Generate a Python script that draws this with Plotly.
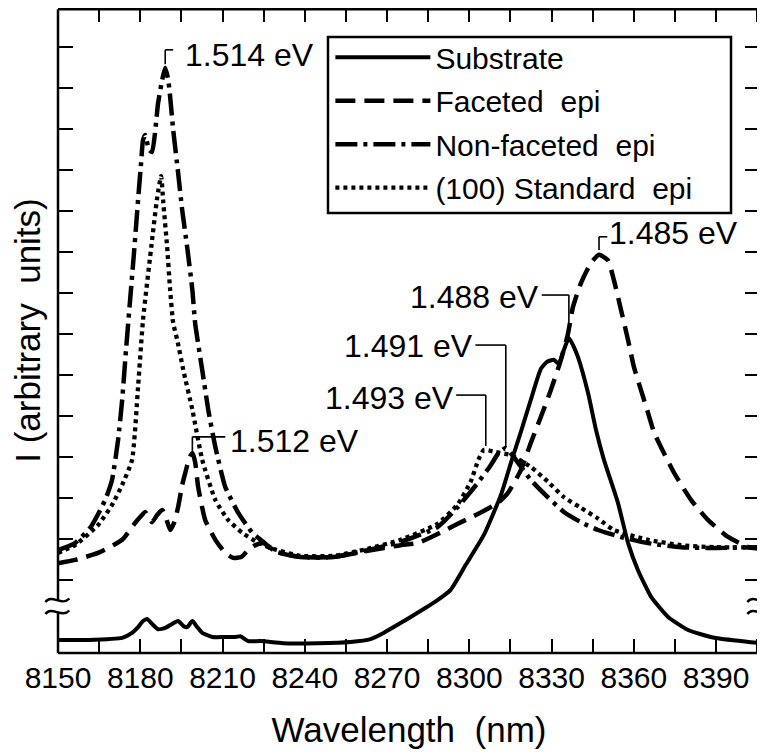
import plotly.graph_objects as go

# ---------------- data (wavelength as labelled, intensity in arbitrary units) ----------------
sub_x = [8150, 8161, 8173.4, 8177, 8179.2, 8181, 8182.5, 8184.3, 8186.5, 8189.1, 8191.6, 8193.8,
         8195.7, 8197.1, 8199, 8200.8, 8202.6, 8206.3, 8211, 8214.7, 8216.5, 8219.4, 8223.8, 8232.2,
         8244.6, 8256.7, 8264, 8268.7, 8274.9, 8281.1, 8288.4, 8293.2, 8298.7, 8305.3, 8311.5,
         8315.5, 8318.8, 8322.4, 8326.1, 8328.3, 8330.8, 8332.6, 8334.1, 8336.3, 8337.8, 8339.6,
         8343.3, 8346.2, 8349.1, 8354.2, 8357.9, 8361.5, 8366.3, 8372.5, 8379.8, 8389.3, 8401.7, 8406]
sub_y = [-1.46, -1.46, -1.41, -1.29, -1.15, -1.0, -0.95, -1.07, -1.2, -1.17, -1.07, -1.0,
         -1.12, -1.15, -1.0, -1.15, -1.29, -1.39, -1.39, -1.39, -1.37, -1.49, -1.49, -1.54,
         -1.54, -1.51, -1.44, -1.29, -1.05, -0.8, -0.49, -0.24, 0.37, 1.1, 2.07,
         2.93, 3.61, 4.39, 5.15, 5.32, 5.37, 5.27, 5.54, 5.9, 5.73, 5.44,
         4.56, 3.66, 2.93, 1.88, 0.9, 0.24, -0.41, -0.9, -1.22, -1.41, -1.51, -1.54]

fac_x = [8150, 8156.2, 8164.6, 8173.4, 8178.1, 8180.7, 8181.8, 8183.2, 8184.3, 8186.2, 8188, 8189.4,
         8190.9, 8192.4, 8193.8, 8195.3, 8196.4, 8197.9, 8199, 8200, 8201.1, 8203.7, 8207.4, 8211,
         8213.9, 8216.8, 8219.4, 8222, 8224.9, 8230, 8238.4, 8250.5, 8262.9, 8274.9, 8281.1, 8288.4,
         8295.8, 8303.1, 8310.4, 8314, 8318.8, 8322.4, 8326.1, 8329.7, 8333.4, 8335.9, 8337.8,
         8340.7, 8344.3, 8347.3, 8350.5, 8352.7, 8355.3, 8357.9, 8360, 8362.6, 8365.2, 8367.4,
         8369.9, 8374.7, 8380.9, 8387.1, 8394.4, 8401.7, 8406]
fac_y = [0.41, 0.49, 0.66, 0.98, 1.39, 1.59, 1.66, 1.51, 1.41, 1.59, 1.71, 1.51,
         1.22, 1.41, 1.78, 2.32, 2.61, 2.98, 3.1, 2.88, 2.27, 1.46, 0.98, 0.66,
         0.54, 0.56, 0.73, 0.85, 0.9, 0.68, 0.56, 0.56, 0.71, 0.85, 0.9, 1.12,
         1.37, 1.61, 1.88, 2.12, 2.68, 3.34, 3.98, 4.63, 5.37, 5.98, 6.66,
         7.24, 7.73, 7.93, 7.8, 7.32, 6.59, 5.85, 5.2, 4.63, 4.07, 3.59,
         3.24, 2.61, 1.95, 1.46, 1.05, 0.8, 0.76]

non_x = [8150, 8156.2, 8162.0, 8167.2, 8169.7, 8171.9, 8173.4, 8174.8, 8176.3, 8177.8, 8179.2, 8180.3,
         8181.0, 8181.8, 8183.2, 8184.3, 8186.5, 8188.0, 8189.1, 8190.2, 8190.9, 8192.0, 8193.8, 8195.3,
         8197.1, 8199.0, 8200.0, 8202.6, 8204.8, 8207.4, 8211.0, 8215.8, 8220.9, 8224.9, 8227.4, 8230.0,
         8238.4, 8250.5, 8262.9, 8274.9, 8288.4, 8295.8, 8303.1, 8307.8, 8310.7, 8313.3, 8316.2,
         8322.4, 8328.6, 8334.5, 8340.7, 8346.9, 8355.3, 8365.2, 8377.2, 8389.3, 8406]
non_y = [0.73, 0.9, 1.3, 1.95, 2.44, 3.41, 4.39, 5.61, 6.83, 8.05, 9.27, 10.17,
         10.73, 10.85, 10.49, 10.44, 11.63, 12.2, 12.49, 12.2, 11.78, 10.98, 9.93, 9.02,
         8.12, 7.07, 6.27, 5.12, 4.15, 3.24, 2.27, 1.63, 1.15, 0.93, 0.78, 0.68,
         0.56, 0.56, 0.73, 0.93, 1.29, 1.78, 2.37, 2.8, 3.1, 3.22, 3.0,
         2.44, 2.02, 1.66, 1.41, 1.22, 1.05, 0.9, 0.8, 0.78, 0.8]

std_x = [8150, 8156.2, 8164.6, 8169.7, 8173.4, 8177, 8179.2, 8181, 8184.3, 8186.2, 8187.6, 8188.4,
         8189.8, 8190.9, 8192, 8193.5, 8195.7, 8199, 8202.6, 8207.4, 8212.1, 8217.2, 8222, 8227.4,
         8238.4, 8250.5, 8262.9, 8274.9, 8288.4, 8295.8, 8300.5, 8303.4, 8305.3, 8309.6, 8315,
         8322.4, 8328.6, 8334.5, 8340.7, 8346.9, 8352.7, 8365.2, 8377.2, 8389.3, 8406]
std_y = [0.66, 0.85, 1.34, 1.83, 2.32, 2.93, 4.71, 6.34, 8.29, 9.34, 9.85, 9.2,
         8.12, 7.07, 6.27, 5.85, 5.12, 4.15, 2.93, 1.95, 1.46, 1.15, 0.95, 0.78,
         0.59, 0.59, 0.76, 0.98, 1.37, 1.85, 2.4, 2.95, 3.17, 3.12, 3.05,
         2.76, 2.4, 2.02, 1.76, 1.5, 1.22, 0.98, 0.85, 0.8, 0.8]

series_names = ["Substrate", "Faceted\u00a0 epi", "Non-faceted\u00a0 epi", "(100)\u00a0Standard\u00a0 epi"]

x_tick_vals = list(range(8150, 8406, 15))
x_tick_text = [str(v) if (v - 8150) % 30 == 0 else "" for v in x_tick_vals]
y_tick_vals = list(range(0, 14))

FONT = "Liberation Sans, Arial, Helvetica, sans-serif"

fig = go.Figure()
styles = [
    dict(x=sub_x, y=sub_y, dash="solid", width=4),
    dict(x=fac_x, y=fac_y, dash="20px,9px", width=4.5),
    dict(x=non_x, y=non_y, dash="22px,6px,4px,6px", width=4.5),
    dict(x=std_x, y=std_y, dash="4px,4px", width=4.3),
]
for name, s in zip(series_names, styles):
    fig.add_trace(go.Scatter(
        x=s["x"], y=s["y"], mode="lines", name=name, legendgroup=name,
        line=dict(color="black", width=s["width"], dash=s["dash"], shape="spline", smoothing=0.5),
    ))

X0, X1 = 8150, 8406
Y0, Y1 = -1.78, 13.95

def py(v):
    return (v - Y0) / (Y1 - Y0)

shapes = []
LW = 2.5
brk_lo, brk_hi = -0.78, -0.49   # y-values of the axis break
# frame
shapes.append(dict(type="line", xref="paper", yref="paper", x0=0, x1=1, y0=0.998, y1=0.998, line=dict(color="black", width=LW)))
shapes.append(dict(type="line", xref="paper", yref="paper", x0=0, x1=1, y0=0, y1=0, line=dict(color="black", width=LW)))
for xp in (0, 1):
    shapes.append(dict(type="line", xref="paper", yref="paper", x0=xp, x1=xp, y0=0, y1=py(brk_lo), line=dict(color="black", width=LW)))
    shapes.append(dict(type="line", xref="paper", yref="paper", x0=xp, x1=xp, y0=py(brk_hi), y1=0.998, line=dict(color="black", width=LW)))
    for yb in (brk_lo, brk_hi):
        dx = 0.018
        y = py(yb)
        dy = 0.008
        path = (f"M {xp-dx},{y-dy*0.4} C {xp-dx*0.5},{y+dy*1.3} {xp+dx*0.3},{y-dy*1.3} {xp+dx*0.9},{y+dy*0.3}")
        shapes.append(dict(type="path", xref="paper", yref="paper", path=path, line=dict(color="black", width=2.4)))

# legend frame (white box drawn behind the legend entries)
shapes.append(dict(type="rect", xref="paper", yref="paper", x0=0.3846, x1=0.9587, y0=0.682, y1=0.955,
                   fillcolor="white", line=dict(color="black", width=2.5), layer="above"))

def seg(xa, ya, xb, yb):
    shapes.append(dict(type="line", xref="x", yref="y", x0=xa, y0=ya, x1=xb, y1=yb, line=dict(color="black", width=1.6)))

annos = []
def lab(text, x, y, xanchor):
    annos.append(dict(text=text, x=x, y=y, xref="x", yref="y", xanchor=xanchor, yanchor="middle",
                      showarrow=False, font=dict(family=FONT, size=32, color="black")))

# 1.514 eV (non-faceted peak)
seg(8189.1, 12.58, 8189.1, 12.93); seg(8189.1, 12.93, 8192.0, 12.93)
lab("1.514 eV", 8195.5, 12.80, "left")
# 1.512 eV (faceted small peak)
seg(8199.0, 3.15, 8199.0, 3.49); seg(8199.0, 3.49, 8211.0, 3.49)
lab("1.512 eV", 8212.0, 3.40, "left")
# 1.493 eV (standard broad peak)
seg(8306.0, 3.27, 8306.0, 4.51); seg(8295.2, 4.51, 8306.0, 4.51)
lab("1.493 eV", 8295.0, 4.44, "right")
# 1.491 eV (non-faceted broad peak)
seg(8313.3, 3.27, 8313.3, 5.73); seg(8302.2, 5.73, 8313.3, 5.73)
lab("1.491 eV", 8302.0, 5.70, "right")
# 1.488 eV (substrate peak)
seg(8336.3, 6.1, 8336.3, 6.95); seg(8326.4, 6.95, 8336.3, 6.95)
lab("1.488 eV", 8326.2, 6.90, "right")
# 1.485 eV (faceted peak)
seg(8347.3, 8.05, 8347.3, 8.37); seg(8347.3, 8.37, 8350.3, 8.37)
lab("1.485 eV", 8350.3, 8.46, "left")

# the page body has an 8 px margin, so the figure is 8 px smaller and offset accordingly
fig.update_layout(
    width=757, height=747,
    margin=dict(l=50, r=5, t=0, b=102),
    paper_bgcolor="white", plot_bgcolor="white",
    font=dict(family=FONT, color="black"),
    showlegend=True,
    legend=dict(
        x=0.388, y=0.964, xanchor="left", yanchor="top",
        bgcolor="rgba(0,0,0,0)", borderwidth=0,
        font=dict(family=FONT, size=30, color="black"),
        itemwidth=95, tracegroupgap=1.5, traceorder="grouped",
    ),
    shapes=shapes,
    annotations=annos,
)
fig.update_xaxes(
    range=[X0, X1], showgrid=False, zeroline=False, showline=False, automargin=False,
    tickmode="array", tickvals=x_tick_vals, ticktext=x_tick_text,
    ticks="inside", ticklen=14, tickwidth=2, tickcolor="black", mirror="ticks",
    tickfont=dict(family=FONT, size=30, color="black"), ticklabelstandoff=4,
    title=dict(text="Wavelength\u00a0 (nm)", font=dict(family=FONT, size=35, color="black"), standoff=24),
)
fig.update_yaxes(
    range=[Y0, Y1], showgrid=False, zeroline=False, showline=False, automargin=False,
    tickmode="array", tickvals=y_tick_vals, showticklabels=False,
    ticks="inside", ticklen=15, tickwidth=2, tickcolor="black", mirror="ticks",
    title=dict(text="I (arbitrary\u00a0 units)", font=dict(family=FONT, size=35, color="black"), standoff=8),
)

fig.write_html("out.html")
